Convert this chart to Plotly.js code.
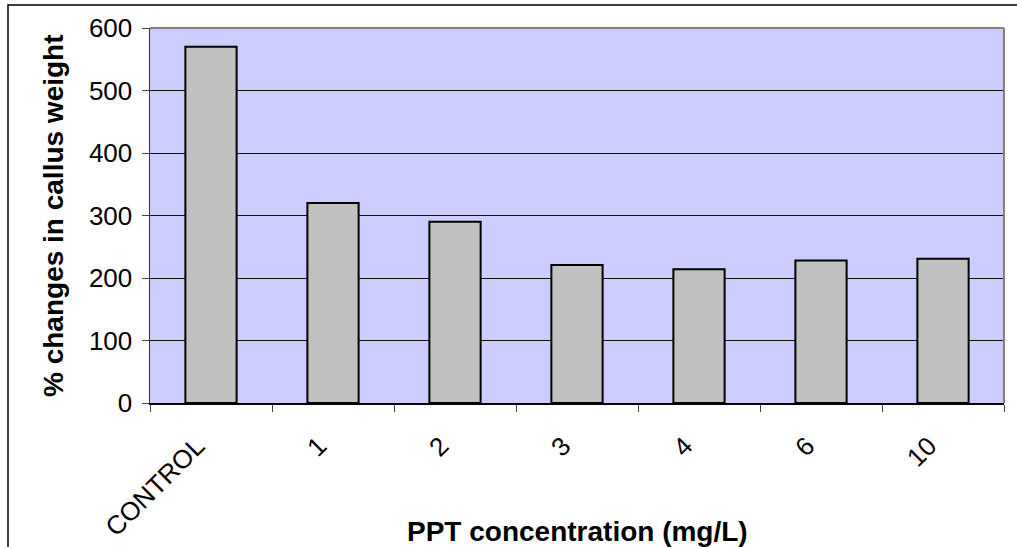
<!DOCTYPE html>
<html>
<head>
<meta charset="utf-8">
<script src="https://cdn.plot.ly/plotly-3.0.1.min.js"></script>
<style>html,body{margin:0;padding:0;background:#fff;}#chart{width:1017px;height:547px;}</style>
</head>
<body>
<div id="chart"></div>
<script>
var categories = ["CONTROL", "1", "2", "3", "4", "6", "10"];
var values = [570, 320, 290, 221, 214, 228, 231];
var yTickVals = [0, 100, 200, 300, 400, 500, 600];
var xTitle = "PPT concentration (mg/L)";
var yTitle = "% changes in callus weight";

var font = "Liberation Sans, Arial, sans-serif";
var W = 1017, H = 547, L = 150, R = 13, T = 28, B = 144;
var pw = W - L - R, ph = H - T - B;
function px2x(p){ return (p - L) / pw; }
function py2y(p){ return (H - B - p) / ph; }

var trace = {
  type: "bar",
  x: categories,
  y: values,
  marker: {color: "#C0C0C0", line: {color: "#000000", width: 2}},
  hoverinfo: "x+y"
};

var layout = {
  width: W, height: H,
  margin: {l: L, r: R, t: T, b: B, pad: 0},
  paper_bgcolor: "#FFFFFF",
  plot_bgcolor: "#CCCCFF",
  showlegend: false,
  bargap: 0.58,
  font: {family: font, color: "#000"},
  xaxis: {
    type: "category",
    tickangle: -45,
    tickson: "boundaries",
    ticks: "outside", ticklen: 7, tickcolor: "#444", tickwidth: 1,
    ticklabelstandoff: 16,
    ticklabelshift: -14,
    showline: true, linecolor: "#000", linewidth: 1.5,
    showgrid: false, zeroline: false,
    tickfont: {family: font, size: 26, color: "#000"},
    fixedrange: true
  },
  yaxis: {
    range: [0, 600],
    tickvals: yTickVals,
    ticks: "outside", ticklen: 7, tickcolor: "#444", tickwidth: 1,
    ticklabelstandoff: 4,
    showline: true, linecolor: "#333", linewidth: 1.5,
    showgrid: true, gridcolor: "#111", gridwidth: 1,
    zeroline: false,
    tickfont: {family: font, size: 26, color: "#000"},
    fixedrange: true
  },
  shapes: [
    {type: "line", xref: "paper", yref: "paper", x0: 0, x1: 1, y0: 1, y1: 1, line: {color: "#808080", width: 2}},
    {type: "line", xref: "paper", yref: "paper", x0: 1, x1: 1, y0: 0, y1: 1, line: {color: "#808080", width: 2}},
    {type: "rect", xref: "paper", yref: "paper", x0: px2x(8), x1: px2x(1030), y0: py2y(560), y1: py2y(5), line: {color: "#000", width: 1.5}, fillcolor: "rgba(0,0,0,0)"}
  ],
  annotations: [
    {text: "<b>" + xTitle + "</b>", xref: "paper", yref: "paper", x: px2x(577), y: py2y(531), xanchor: "center", yanchor: "middle", showarrow: false, font: {family: font, size: 28, color: "#000"}},
    {text: "<b>" + yTitle + "</b>", xref: "paper", yref: "paper", x: px2x(53), y: py2y(216), xanchor: "center", yanchor: "middle", textangle: -90, showarrow: false, font: {family: font, size: 28, color: "#000"}}
  ]
};

Plotly.newPlot("chart", [trace], layout, {displayModeBar: false, staticPlot: true});
</script>
</body>
</html>
